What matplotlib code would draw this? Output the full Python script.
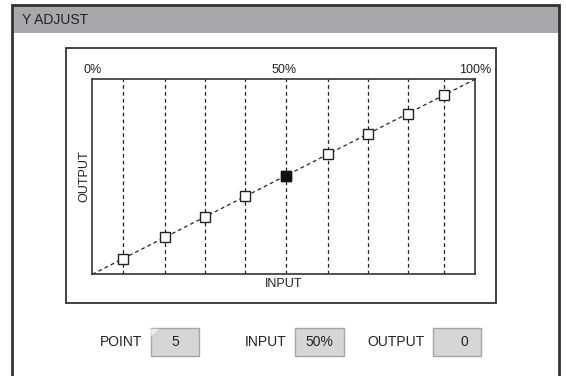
import matplotlib
matplotlib.use("Agg")
import matplotlib.pyplot as plt
from matplotlib.patches import Rectangle, Polygon

# adjustment points (input %, output %)
point_inputs = [7.9, 18.9, 29.4, 40.0, 50.5, 61.5, 72.0, 82.4, 91.9]
point_outputs = [7.9, 18.9, 29.4, 40.0, 50.5, 61.5, 72.0, 82.4, 91.9]
selected = 4  # index of point 5

top_ticks = [0, 50, 100]
top_labels = ["0%", "50%", "100%"]

field_labels = ["POINT", "INPUT", "OUTPUT"]
field_values = ["5", "50%", "0"]

W, H = 566, 376
fig = plt.figure(figsize=(W / 100, H / 100), dpi=100)
fig.patch.set_facecolor("white")

sans = ["Liberation Sans", "DejaVu Sans"]

# background canvas in pixel coordinates
bg = fig.add_axes([0, 0, 1, 1])
bg.set_xlim(0, W)
bg.set_ylim(H, 0)
bg.axis("off")

# window frame and title bar
bg.add_patch(Rectangle((12, 5), 547, 28, facecolor="#a7a8ab", edgecolor="none"))
bg.plot([12, 12, 559, 559], [H + 5, 5, 5, H + 5], color="#333333", lw=2,
        solid_joinstyle="miter")
bg.text(22, 20, "Y ADJUST", fontsize=10, family=sans, color="#222222",
        va="center", ha="left")

# inner box around the graph
bg.add_patch(Rectangle((66, 48), 430, 255, facecolor="none",
                       edgecolor="#333333", lw=1.3))

# graph axes
left, right, top, bottom = 92.3, 475, 79.3, 274.3
ax = fig.add_axes([left / W, 1 - bottom / H, (right - left) / W, (bottom - top) / H])
ax.set_xlim(0, 100)
ax.set_ylim(0, 100)
ax.set_xticks([])
ax.set_yticks([])
for s in ax.spines.values():
    s.set_color("#333333")
    s.set_linewidth(1.2)

ax.vlines(point_inputs, 0, 100, colors="#222222", linestyles=(0, (3, 2.5)), lw=0.9)
ax.plot([0, 100], [0, 100], color="#222222", ls=(0, (3, 2.5)), lw=0.9)
ax.plot(point_inputs, point_outputs, ls="none", marker="s", ms=7.0,
        mfc="white", mec="#222222", mew=1.0, zorder=3)
ax.plot(point_inputs[selected], point_outputs[selected], ls="none", marker="s",
        ms=7.0, mfc="#111111", mec="#111111", mew=1.0, zorder=4)

for t, lab in zip(top_ticks, top_labels):
    ax.text(t, 101.8, lab, fontsize=9, family=sans, ha="center", va="bottom",
            color="#222222")
ax.text(50, -2.0, "INPUT", fontsize=9, family=sans, ha="center", va="top",
        color="#222222")
ax.text(-2.0, 50.5, "OUTPUT", fontsize=9, family=sans, ha="center", va="center",
        rotation=90, color="#222222")

# value fields below
label_x = [120.7, 265.7, 396]
box_x = [150.7, 295, 432.7]
box_w = 48.5
for lx, bx, lab, val in zip(label_x, box_x, field_labels, field_values):
    bg.text(lx, 342, lab, fontsize=10, family=sans, ha="center", va="center",
            color="#222222")
    bg.add_patch(Rectangle((bx, 328.3), box_w, 27.7, facecolor="#d6d6d6",
                           edgecolor="#a5a5a5", lw=1))
bg.text(box_x[0] + box_w / 2, 342, field_values[0], fontsize=10, family=sans,
        ha="center", va="center", color="#222222")
bg.text(box_x[1] + box_w / 2, 342, field_values[1], fontsize=10, family=sans,
        ha="center", va="center", color="#222222")
bg.text(box_x[2] + box_w - 13, 342, field_values[2], fontsize=10, family=sans,
        ha="right", va="center", color="#222222")
bg.add_patch(Polygon([[151.2, 328.8], [159, 328.8], [151.2, 336.5]],
                     closed=True, facecolor="#ececec", edgecolor="none"))

fig.savefig("out.png", dpi=100)
